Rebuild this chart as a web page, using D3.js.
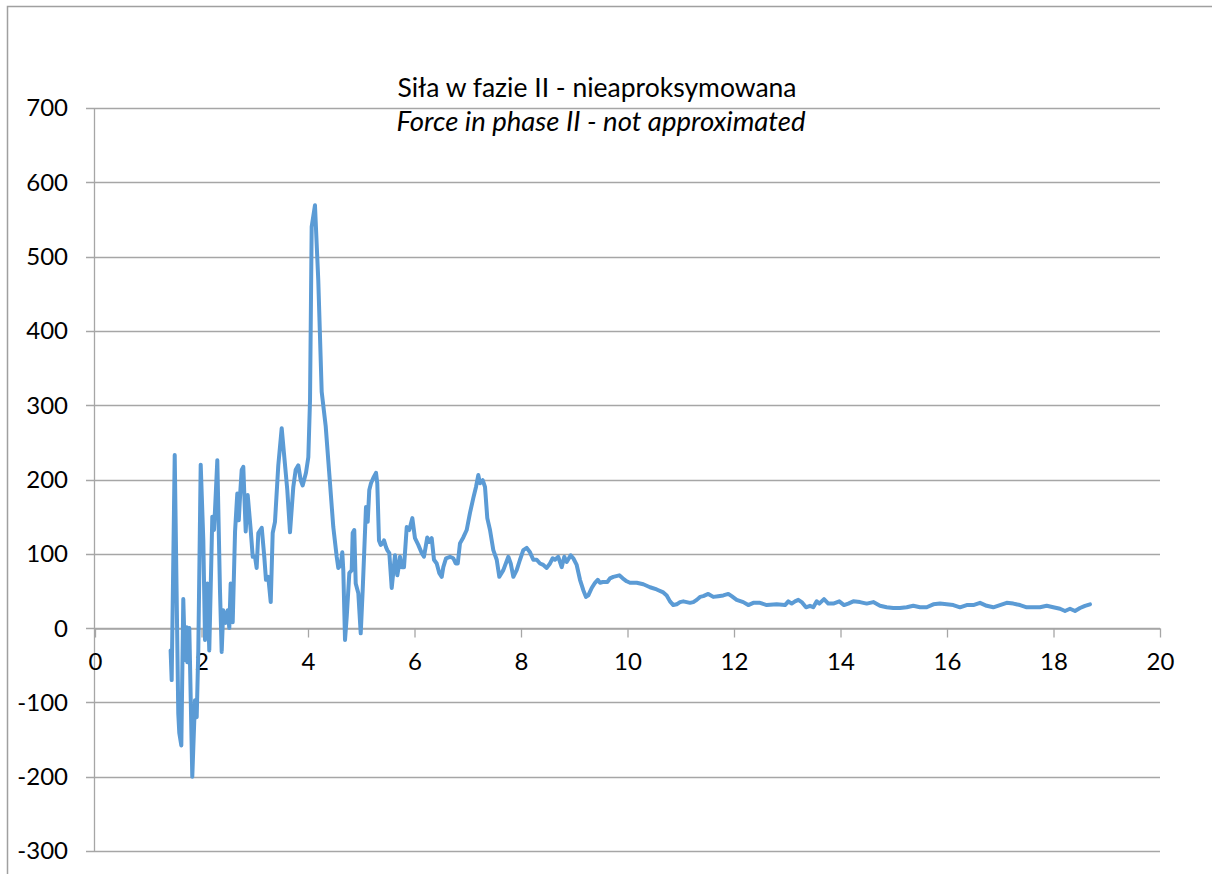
<!DOCTYPE html>
<html>
<head>
<meta charset="utf-8">
<script src="https://cdn.jsdelivr.net/npm/d3@7"></script>
<style>
  html, body { margin: 0; padding: 0; background: #fff; }
  svg { display: block; }
  text { font-family: Lato, "Open Sans", sans-serif; fill: #000; }
</style>
</head>
<body>
<svg id="chart" width="1212" height="874"></svg>
<script>
// Time [s] and force readings for phase II (raw, not approximated)
const timeS = [
  1.42, 1.44, 1.497, 1.564, 1.583, 1.621, 1.658, 1.690, 1.722, 1.733, 1.771, 1.827, 1.878, 1.910, 1.940,
  1.985, 2.034, 2.066, 2.109, 2.146, 2.203, 2.235, 2.254, 2.297, 2.347, 2.379, 2.409, 2.454, 2.492, 2.522,
  2.548, 2.586, 2.63, 2.672, 2.70, 2.73, 2.755, 2.785, 2.830, 2.868, 2.924, 2.962, 3.005, 3.036, 3.067,
  3.131, 3.179, 3.211, 3.254, 3.300, 3.337, 3.380, 3.442, 3.506, 3.549, 3.611, 3.662, 3.724, 3.769, 3.818,
  3.863, 3.900, 3.962, 4.006, 4.038, 4.069, 4.131, 4.193, 4.257, 4.332, 4.413, 4.475, 4.539, 4.569, 4.614,
  4.644, 4.663, 4.695, 4.727, 4.776, 4.821, 4.839, 4.869, 4.896, 4.945, 4.990, 5.027, 5.057, 5.089, 5.121,
  5.151, 5.183, 5.226, 5.277, 5.301, 5.333, 5.365, 5.403, 5.427, 5.465, 5.489, 5.527, 5.572, 5.634, 5.677,
  5.715, 5.728, 5.760, 5.803, 5.854, 5.902, 5.959, 6.009, 6.071, 6.135, 6.178, 6.240, 6.278, 6.323, 6.366,
  6.417, 6.466, 6.511, 6.541, 6.592, 6.667, 6.729, 6.774, 6.812, 6.854, 6.916, 6.980, 7.042, 7.104, 7.155,
  7.198, 7.230, 7.281, 7.324, 7.367, 7.418, 7.480, 7.544, 7.593, 7.668, 7.762, 7.807, 7.856, 7.919, 7.981,
  8.043, 8.107, 8.169, 8.231, 8.295, 8.357, 8.419, 8.483, 8.545, 8.595, 8.638, 8.700, 8.764, 8.813, 8.858,
  8.933, 8.982, 9.046, 9.108, 9.170, 9.221, 9.264, 9.328, 9.390, 9.441, 9.484, 9.534, 9.621, 9.671, 9.733,
  9.846, 9.910, 9.985, 10.047, 10.173, 10.297, 10.423, 10.548, 10.672, 10.736, 10.798, 10.860, 10.924, 10.986, 11.048,
  11.174, 11.236, 11.300, 11.362, 11.423, 11.517, 11.611, 11.705, 11.799, 11.893, 11.956, 12.050, 12.174, 12.268, 12.362,
  12.488, 12.614, 12.802, 12.958, 13.020, 13.083, 13.146, 13.208, 13.271, 13.352, 13.427, 13.489, 13.553, 13.602, 13.690,
  13.771, 13.865, 13.977, 14.066, 14.146, 14.240, 14.366, 14.492, 14.616, 14.742, 14.867, 14.991, 15.117, 15.243, 15.367,
  15.493, 15.619, 15.743, 15.869, 15.994, 16.118, 16.244, 16.370, 16.494, 16.620, 16.745, 16.869, 16.995, 17.121, 17.245,
  17.371, 17.497, 17.620, 17.746, 17.872, 17.996, 18.122, 18.216, 18.310, 18.404, 18.498, 18.592, 18.685
];
const force = [
  -30, -70, 233, -115, -141, -158, 39, -43, 1, -46, 0, -200, -97, -120, -30,
  220, 118, -16, 60, -30, 150, 132, 159, 226, 51, -32, 24, 7, 24, 0,
  60, 8, 130, 181, 145, 185, 213, 217, 130, 179, 132, 96, 96, 81, 128,
  135, 96, 65, 69, 35, 128, 143, 219, 269, 235, 186, 129, 190, 213, 219,
  199, 192, 209, 230, 307, 540, 569, 468, 318, 272, 195, 136, 96, 81, 85,
  102, 78, -16, 15, 74, 78, 128, 132, 60, 47, -7, 51, 105, 163, 143,
  186, 195, 202, 209, 195, 118, 112, 114, 118, 109, 105, 101, 54, 98, 71,
  87, 96, 82, 82, 136, 132, 148, 121, 112, 101, 96, 122, 116, 121, 92,
  87, 74, 69, 82, 94, 96, 94, 87, 87, 114, 122, 132, 155, 175, 190,
  206, 195, 199, 190, 148, 132, 105, 92, 69, 78, 96, 87, 69, 78, 92,
  105, 108, 102, 92, 92, 87, 85, 81, 87, 94, 92, 96, 82, 96, 89,
  98, 94, 85, 65, 51, 42, 44, 54, 61, 65, 61, 62, 62, 67, 69,
  71, 67, 63, 61, 61, 59, 55, 52, 48, 44, 36, 31, 32, 35, 36,
  34, 35, 38, 42, 43, 46, 42, 43, 44, 46, 43, 38, 35, 31, 34,
  34, 31, 32, 31, 36, 33, 36, 38, 35, 28, 30, 28, 36, 33, 39,
  33, 33, 36, 31, 33, 36, 35, 33, 35, 30, 28, 27, 27, 28, 30,
  28, 28, 32, 33, 32, 31, 28, 31, 31, 34, 30, 28, 31, 34, 33,
  31, 28, 28, 28, 30, 28, 26, 23, 26, 23, 27, 30, 32
];
const xTicks = [0, 2, 4, 6, 8, 10, 12, 14, 16, 18, 20];
const yTicks = [-300, -200, -100, 0, 100, 200, 300, 400, 500, 600, 700];
const titleLines = ["Siła w fazie II - nieaproksymowana", "Force in phase II - not approximated"];

const svg = d3.select("#chart");
const gridColor = "#a6a6a6";

// Outer chart frame
svg.append("rect")
  .attr("x", 7.5).attr("y", 6.5)
  .attr("width", 1220).attr("height", 880)
  .attr("fill", "none").attr("stroke", "#a0a0a0").attr("stroke-width", 1.5);

const x = d3.scaleLinear().domain([0, 20]).range([95, 1160]);
const y = d3.scaleLinear().domain([-300, 700]).range([851, 108]);

// Horizontal gridlines with left tick stubs
svg.append("g")
  .selectAll("line")
  .data(yTicks)
  .join("line")
  .attr("x1", 86).attr("x2", x(20))
  .attr("y1", d => Math.round(y(d)) + 0.5).attr("y2", d => Math.round(y(d)) + 0.5)
  .attr("stroke", gridColor).attr("stroke-width", 1.3);

// Vertical value axis
svg.append("line")
  .attr("x1", 94.5).attr("x2", 94.5)
  .attr("y1", y(700)).attr("y2", y(-300))
  .attr("stroke", gridColor).attr("stroke-width", 1.3);

// Y tick labels
svg.append("g")
  .selectAll("text")
  .data(yTicks)
  .join("text")
  .attr("x", 68)
  .attr("y", d => y(d))
  .attr("dy", "0.35em")
  .attr("text-anchor", "end")
  .attr("font-size", 24)
  .text(d => d);

// X axis through zero, ticks pointing down
const xAxis = d3.axisBottom(x)
  .tickValues(xTicks)
  .tickSize(9)
  .tickSizeOuter(0)
  .tickFormat(d => d);
const gx = svg.append("g")
  .attr("transform", `translate(0,${Math.round(y(0)) + 0.5})`)
  .call(xAxis);
gx.select(".domain").attr("stroke", gridColor).attr("stroke-width", 1.3);
gx.selectAll(".tick line").attr("stroke", gridColor).attr("stroke-width", 1.3);
gx.selectAll(".tick text")
  .attr("font-family", "Lato, 'Open Sans', sans-serif")
  .attr("font-size", 24)
  .attr("fill", "#000")
  .attr("y", 24)
  .attr("dy", "0.71em");

// Force trace
const pts = timeS.map((t, i) => [t, force[i]]);
svg.append("path")
  .datum(pts)
  .attr("fill", "none")
  .attr("stroke", "#5b9bd5")
  .attr("stroke-width", 4)
  .attr("stroke-linejoin", "round")
  .attr("stroke-linecap", "round")
  .attr("d", d3.line().x(d => x(d[0])).y(d => y(d[1])));

// Two-line title
svg.append("text")
  .attr("x", 597).attr("y", 97)
  .attr("text-anchor", "middle")
  .attr("font-size", 26.5)
  .text(titleLines[0]);
svg.append("text")
  .attr("x", 601).attr("y", 131)
  .attr("text-anchor", "middle")
  .attr("font-size", 27.5)
  .attr("font-style", "italic")
  .text(titleLines[1]);
</script>
</body>
</html>
